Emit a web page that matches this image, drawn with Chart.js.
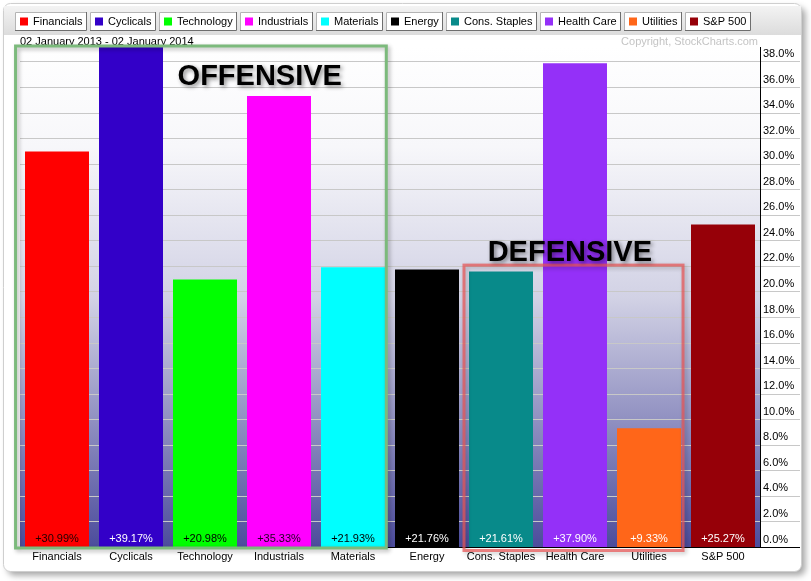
<!DOCTYPE html>
<html><head><meta charset="utf-8">
<script src="https://cdn.jsdelivr.net/npm/chart.js@4/dist/chart.umd.min.js"></script>
<style>html,body{margin:0;padding:0;background:#fff;}#wrap{width:811px;height:581px;position:relative;}canvas{display:block;}</style>
</head><body><div id="wrap"><canvas id="c" width="811" height="581"></canvas></div>
<script>
// ---- data ----
const categories = ['Financials','Cyclicals','Technology','Industrials','Materials','Energy','Cons. Staples','Health Care','Utilities','S&P 500'];
const changes = [30.99, 39.17, 20.98, 35.33, 21.93, 21.76, 21.61, 37.90, 9.33, 25.27];
const yTickValues = [0,2,4,6,8,10,12,14,16,18,20,22,24,26,28,30,32,34,36,38];
const dateRange = '02 January 2013 - 02 January 2014';
const copyrightText = 'Copyright, StockCharts.com';
const groupLabels = ['OFFENSIVE', 'DEFENSIVE'];

// ---- styles ----
const barColors = ['#ff0000','#3300c8','#00ff00','#ff00ff','#00ffff','#000000','#088a8a','#9430f8','#ff6619','#960008'];
const valueLabelColors = ['#200000','#ffffff','#000000','#200020','#000000','#ffffff','#ffffff','#ffffff','#ffffff','#ffffff'];
const FONT = '"Liberation Sans", Arial, Helvetica, sans-serif';

// annotation geometry in data units (category index / percent)
const offensiveBox = {from: -0.56, to: 4.45};
const defensiveBox = {from: 5.5, to: 8.46, top: 22.1};
const offensiveText = {x: 2.74, y: 36.22};
const defensiveText = {x: 6.93, y: 22.43};

const fmtPct = v => (v >= 0 ? '+' : '') + v.toFixed(2) + '%';

const framePlugin = {
  id: 'frame',
  beforeDraw(chart) {
    const ctx = chart.ctx, a = chart.chartArea;
    ctx.save();
    ctx.shadowColor = 'rgba(0,0,0,0.35)';
    ctx.shadowBlur = 6; ctx.shadowOffsetX = 4; ctx.shadowOffsetY = 4;
    ctx.beginPath(); ctx.roundRect(3.5, 3.5, 798, 568, 7);
    ctx.fillStyle = '#ffffff'; ctx.fill();
    ctx.shadowColor = 'transparent';
    ctx.strokeStyle = '#cfcfcf'; ctx.lineWidth = 1; ctx.stroke();
    const g = ctx.createLinearGradient(0, 6, 0, 35);
    g.addColorStop(0, '#f3f3f3'); g.addColorStop(1, '#dcdcdc');
    ctx.fillStyle = g; ctx.fillRect(4, 6, 797, 29);
    ctx.font = '11px ' + FONT;
    ctx.textBaseline = 'middle'; ctx.textAlign = 'left';
    let x = 15; const top = 12, h = 19;
    categories.forEach((c, i) => {
      const tw = ctx.measureText(c).width;
      const w = Math.round(18 + tw + 4.5);
      ctx.fillStyle = '#ffffff'; ctx.fillRect(x, top, w, h);
      ctx.strokeStyle = '#b4b4b4';
      ctx.beginPath(); ctx.moveTo(x + 0.5, top + h); ctx.lineTo(x + 0.5, top + 0.5); ctx.lineTo(x + w, top + 0.5); ctx.stroke();
      ctx.strokeStyle = '#6e6e6e';
      ctx.beginPath(); ctx.moveTo(x + w - 0.5, top); ctx.lineTo(x + w - 0.5, top + h - 0.5); ctx.lineTo(x, top + h - 0.5); ctx.stroke();
      ctx.fillStyle = barColors[i]; ctx.fillRect(x + 5, top + 5.5, 8, 8);
      ctx.fillStyle = '#000000'; ctx.fillText(c, x + 18, top + h / 2 + 0.5);
      x += w + 3;
    });
    ctx.fillStyle = '#000'; ctx.font = '11px ' + FONT;
    ctx.fillText(dateRange, 20, 41.5);
    ctx.fillStyle = '#c4c4c4'; ctx.textAlign = 'right';
    ctx.fillText(copyrightText, 758, 41.5);
    const pg = ctx.createLinearGradient(0, a.top, 0, a.bottom);
    pg.addColorStop(0, '#ffffff');
    pg.addColorStop(0.2, '#f7f7fa');
    pg.addColorStop(0.5, '#d2d2e5');
    pg.addColorStop(1, '#4c4c9c');
    ctx.fillStyle = pg; ctx.fillRect(a.left, a.top, a.right - a.left, a.bottom - a.top);
    ctx.restore();
  },
  afterDatasetsDraw(chart) {
    const ctx = chart.ctx, a = chart.chartArea;
    const meta = chart.getDatasetMeta(0);
    ctx.save();
    ctx.font = '11px ' + FONT; ctx.textAlign = 'center'; ctx.textBaseline = 'middle';
    meta.data.forEach((bar, i) => {
      ctx.fillStyle = valueLabelColors[i];
      ctx.fillText(fmtPct(changes[i]), bar.x, a.bottom - 9);
    });
    ctx.restore();
  },
  afterDraw(chart) {
    const ctx = chart.ctx, a = chart.chartArea;
    const xs = chart.scales.x, ys = chart.scales.y;
    const px = v => xs.getPixelForValue(0) + v * (xs.getPixelForValue(1) - xs.getPixelForValue(0));
    ctx.save();
    ctx.shadowColor = 'rgba(0,0,0,0.3)'; ctx.shadowBlur = 4; ctx.shadowOffsetX = 2; ctx.shadowOffsetY = 2;
    ctx.strokeStyle = 'rgb(124,186,124)'; ctx.lineWidth = 3;
    ctx.strokeRect(px(offensiveBox.from), a.top - 1, px(offensiveBox.to) - px(offensiveBox.from), a.bottom - a.top + 1.5);
    ctx.strokeStyle = 'rgba(232,84,84,0.72)';
    const dTop = ys.getPixelForValue(defensiveBox.top);
    ctx.strokeRect(px(defensiveBox.from), dTop, px(defensiveBox.to) - px(defensiveBox.from), a.bottom + 3 - dTop);
    ctx.font = 'bold 29px ' + FONT; ctx.textAlign = 'center'; ctx.textBaseline = 'alphabetic';
    ctx.shadowColor = 'rgba(0,0,0,0.45)'; ctx.shadowBlur = 4; ctx.shadowOffsetX = 2; ctx.shadowOffsetY = 2;
    ctx.fillStyle = '#000';
    ctx.fillText(groupLabels[0], px(offensiveText.x), ys.getPixelForValue(offensiveText.y));
    ctx.fillText(groupLabels[1], px(defensiveText.x), ys.getPixelForValue(defensiveText.y));
    ctx.restore();
  }
};

new Chart(document.getElementById('c'), {
  type: 'bar',
  data: {
    labels: categories,
    datasets: [{
      data: changes,
      backgroundColor: barColors,
      borderWidth: 0,
      barPercentage: 64 / 74,
      categoryPercentage: 1
    }]
  },
  options: {
    responsive: false,
    devicePixelRatio: 1,
    animation: false,
    events: [],
    layout: {padding: {left: 20, top: 47, right: 11, bottom: 9.5}},
    plugins: {legend: {display: false}, tooltip: {enabled: false}, title: {display: false}},
    scales: {
      x: {
        grid: {display: false, drawTicks: false},
        border: {display: true, color: '#000', width: 1},
        ticks: {color: '#000', font: {size: 11, family: FONT}, padding: 3, maxRotation: 0, autoSkip: false},
        afterFit: s => { s.height = 24; }
      },
      y: {
        position: 'right',
        min: 0,
        max: Math.max(...changes),
        afterBuildTicks: s => { s.ticks = yTickValues.map(v => ({value: v})); },
        grid: {
          color: c => (c.tick && c.tick.value === 0) ? '#000' : '#c8c8c8',
          lineWidth: 1,
          tickLength: 40,
          drawTicks: true
        },
        border: {display: true, color: '#000', width: 1},
        ticks: {
          color: '#000', font: {size: 11, family: FONT},
          padding: -37, labelOffset: -8,
          callback: v => Number(v).toFixed(1) + '%'
        },
        afterFit: s => { s.width = 40; }
      }
    }
  },
  plugins: [framePlugin]
});
</script>
</body></html>
